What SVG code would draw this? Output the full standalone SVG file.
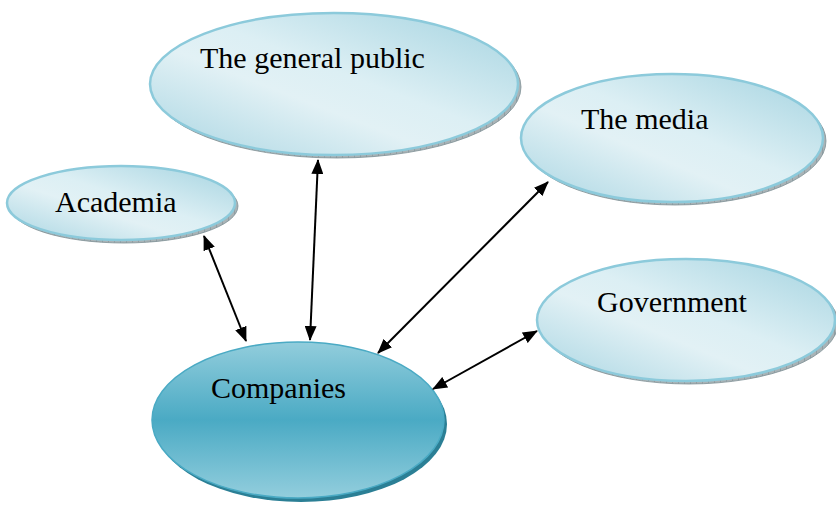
<svg xmlns="http://www.w3.org/2000/svg" width="836" height="505" viewBox="0 0 836 505">
<defs>
<linearGradient id="light" x1="1" y1="0" x2="0" y2="1">
<stop offset="0" stop-color="#a4d3e0"/>
<stop offset="0.45" stop-color="#dceff4"/>
<stop offset="0.6" stop-color="#e2f1f5"/>
<stop offset="1" stop-color="#a8d5e2"/>
</linearGradient>
<linearGradient id="dark" x1="0" y1="0" x2="0" y2="1">
<stop offset="0" stop-color="#92cddc"/>
<stop offset="0.5" stop-color="#4aaac4"/>
<stop offset="1" stop-color="#93cedd"/>
</linearGradient>
<pattern id="hatch" width="6" height="6" patternUnits="userSpaceOnUse">
<rect width="6" height="6" fill="#a9b3b6"/>
<path d="M0 0V6" stroke="#6f8086" stroke-width="0.8"/>
</pattern>
<marker id="ah" viewBox="0 0 15 12" refX="14" refY="6" markerWidth="15" markerHeight="12" markerUnits="userSpaceOnUse" orient="auto-start-reverse">
<path d="M0 0L15 6L0 12z" fill="#000"/>
</marker>
<style>
.sh{fill:url(#hatch);stroke:#7f9095;stroke-width:0.8}
.lt{fill:url(#light);stroke:#8ccadb;stroke-width:2.5}
.t{font-family:"Liberation Serif","DejaVu Serif",serif;font-size:30px;fill:#000}
.c{stroke:#000;stroke-width:2;fill:none;marker-start:url(#ah);marker-end:url(#ah)}
</style>
</defs>
<g id="public">
<ellipse class="sh" cx="337" cy="87" rx="184" ry="71"/>
<ellipse class="lt" cx="334" cy="84" rx="184" ry="71"/>
<text class="t" x="200" y="68">The general public</text>
</g>
<g id="academia">
<ellipse class="sh" cx="124" cy="206" rx="114" ry="37"/>
<ellipse class="lt" cx="121" cy="203" rx="114" ry="37"/>
<text class="t" x="55" y="212">Academia</text>
</g>
<g id="media">
<ellipse class="sh" cx="675" cy="141" rx="151" ry="64"/>
<ellipse class="lt" cx="672" cy="138" rx="151" ry="64"/>
<text class="t" x="581" y="129">The media</text>
</g>
<g id="government">
<ellipse class="sh" cx="689" cy="323" rx="149" ry="61"/>
<ellipse class="lt" cx="686" cy="320" rx="149" ry="61"/>
<text class="t" x="597" y="312">Government</text>
</g>
<g id="companies">
<ellipse cx="301" cy="424" rx="146" ry="78" fill="#2b7f95"/>
<ellipse cx="298" cy="420" rx="146" ry="78" fill="url(#dark)" stroke="#4aaac4" stroke-width="1.5"/>
<text class="t" x="211" y="398">Companies</text>
</g>
<g id="connectors">
<line class="c" x1="204" y1="236" x2="246" y2="341"/>
<line class="c" x1="318" y1="160" x2="310" y2="340"/>
<line class="c" x1="548" y1="182" x2="378" y2="353"/>
<line class="c" x1="537" y1="331" x2="433" y2="389"/>
</g>
</svg>
